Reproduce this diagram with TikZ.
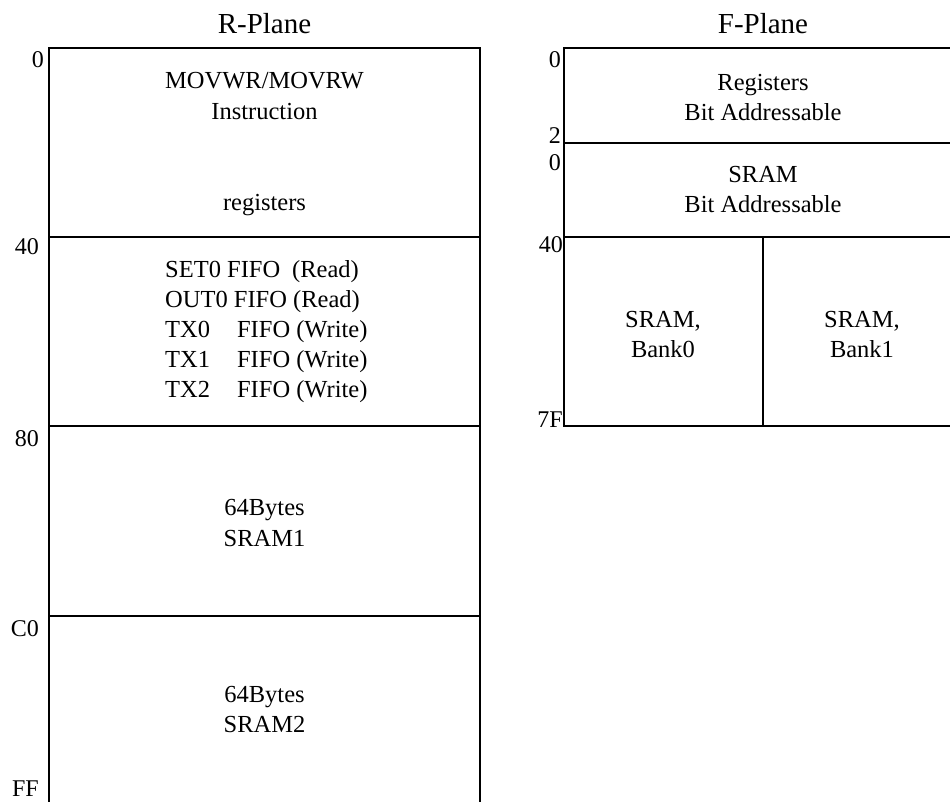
\documentclass[tikz,border=0pt]{standalone}
\usepackage{fontspec}
\setmainfont{Liberation Serif}
\begin{document}
\begin{tikzpicture}[x=1pt,y=-1pt,
  box/.style={line width=1.1pt},
  txt/.style={anchor=base,inner sep=0pt,font=\fontsize{24.5}{30}\selectfont},
  ttl/.style={anchor=base,inner sep=0pt,font=\fontsize{29}{34}\selectfont},
  addr/.style={anchor=north east,inner sep=0pt,font=\fontsize{24}{28}\selectfont},
  addrb/.style={anchor=south east,inner sep=0pt,font=\fontsize{24}{28}\selectfont},
  fifo/.style={anchor=base west,inner sep=0pt,font=\fontsize{24.5}{30}\selectfont}]
\useasboundingbox (0,0) rectangle (950,801);
\begin{scope}
\clip (0,0) rectangle (950,801);
% R-Plane
\draw[box] (49,820) -- (49,48) -- (480,48) -- (480,820);
\draw[box] (49,237) -- (480,237);
\draw[box] (49,426) -- (480,426);
\draw[box] (49,616) -- (480,616);
% F-Plane
\draw[box] (970,48) -- (564,48) -- (564,426) -- (970,426);
\draw[box] (564,143) -- (970,143);
\draw[box] (564,237) -- (970,237);
\draw[box] (763,237) -- (763,426);
\end{scope}
% titles
\node[ttl] (rt) at (264.5,33) {R-Plane};
\node[ttl] (ft) at (763,33) {F-Plane};
% R-plane labels
\node[addr] (r0) at (44,51) {0};
\node[addr] (r40) at (39,238) {40};
\node[addr] (r80) at (39,430) {80};
\node[addr] (rc0) at (39,620) {C0};
\node[addr] (rff) at (39,781) {FF};
% R-plane contents
\node[txt] (mov) at (264.5,88) {MOVWR/MOVRW};
\node[txt] (ins) at (264.5,119) {Instruction};
\node[txt] (reg) at (264.5,210) {registers};
\node[fifo] (f1) at (165,277) {SET0 FIFO\hspace{12pt}(Read)};
\node[fifo] (f2) at (165,307) {OUT0 FIFO (Read)};
\node[fifo] (f3) at (165,337) {TX0\hspace{27pt}FIFO (Write)};
\node[fifo] (f4) at (165,367) {TX1\hspace{27pt}FIFO (Write)};
\node[fifo] (f5) at (165,397) {TX2\hspace{27pt}FIFO (Write)};
\node[txt] (b1) at (264.5,515) {64Bytes};
\node[txt] (s1) at (264.5,546) {SRAM1};
\node[txt] (b2) at (264.5,702) {64Bytes};
\node[txt] (s2) at (264.5,732) {SRAM2};
% F-plane labels
\node[addr] (f0) at (561,51) {0};
\node[addrb] (f2a) at (561,144) {2};
\node[addr] (f0b) at (561,154) {0};
\node[addr] (f40) at (563,236) {40};
\node[addrb] (f7f) at (563,428) {7F};
% F-plane contents
\node[txt] (regs) at (763,90) {Registers};
\node[txt] (bit1) at (763,120) {Bit Addressable};
\node[txt] (sram) at (763,182) {SRAM};
\node[txt] (bit2) at (763,212) {Bit Addressable};
\node[txt] (sb0) at (663,327) {SRAM,};
\node[txt] (bk0) at (663,357) {Bank0};
\node[txt] (sb1) at (862,327) {SRAM,};
\node[txt] (bk1) at (862,357) {Bank1};
\end{tikzpicture}
\end{document}
